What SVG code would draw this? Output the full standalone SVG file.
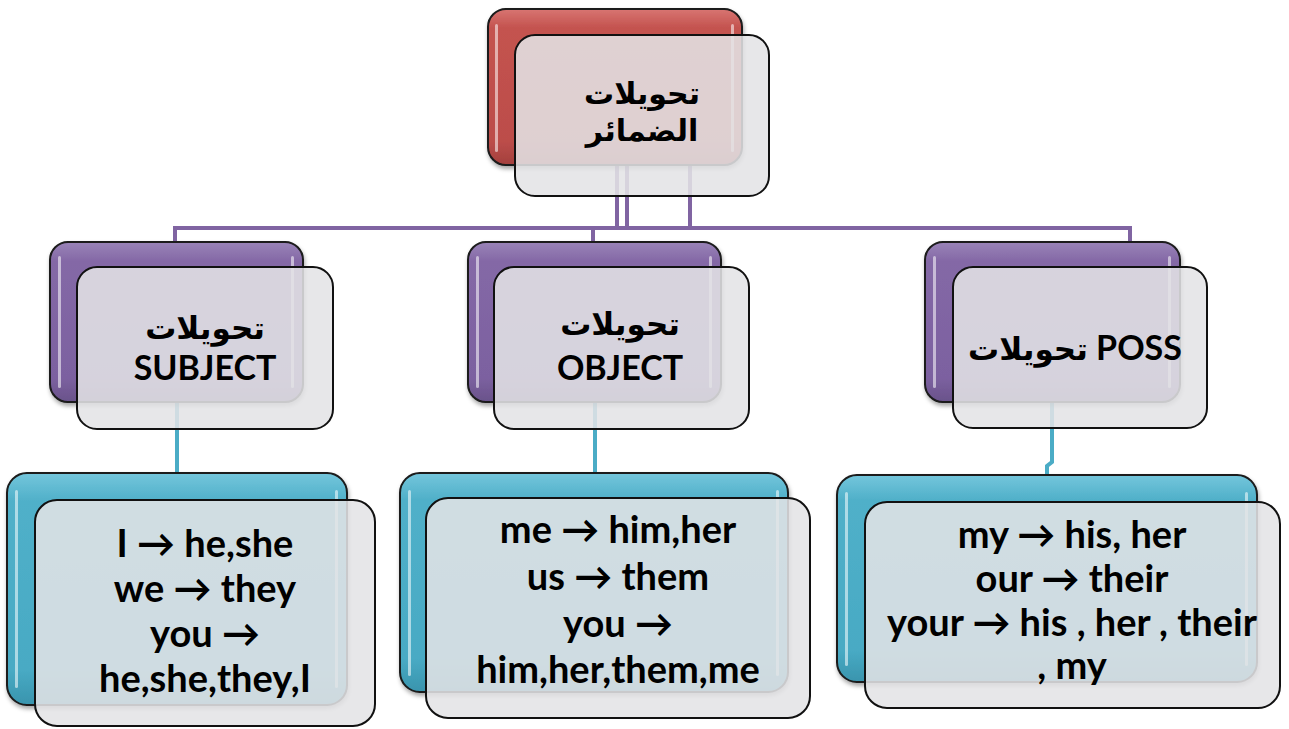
<svg xmlns="http://www.w3.org/2000/svg" width="1289" height="729" viewBox="0 0 1289 729">
<defs>
<linearGradient id="gRed" x1="0" y1="0" x2="0" y2="1">
<stop offset="0" stop-color="#d87572"/><stop offset="0.12" stop-color="#c4534f"/><stop offset="0.85" stop-color="#bc4d4a"/><stop offset="1" stop-color="#a3403d"/>
</linearGradient>
<linearGradient id="gPur" x1="0" y1="0" x2="0" y2="1">
<stop offset="0" stop-color="#9a84b8"/><stop offset="0.12" stop-color="#8468a6"/><stop offset="0.85" stop-color="#7c61a0"/><stop offset="1" stop-color="#69528a"/>
</linearGradient>
<linearGradient id="gTeal" x1="0" y1="0" x2="0" y2="1">
<stop offset="0" stop-color="#74c6dc"/><stop offset="0.12" stop-color="#50b0c9"/><stop offset="0.85" stop-color="#48aac4"/><stop offset="1" stop-color="#3994ad"/>
</linearGradient>
<filter id="sh" x="-5%" y="-5%" width="115%" height="120%">
<feDropShadow dx="1" dy="3" stdDeviation="2" flood-color="#000" flood-opacity="0.35"/>
</filter>
</defs>
<style>
.back{stroke:#1a1a1a;stroke-width:2}
.front{fill:#e4e4e6;fill-opacity:0.87;stroke:#111;stroke-width:2}
.hl{fill:#ffffff;fill-opacity:0.55}
.pc{fill:none;stroke:#8064a2;stroke-width:4}
.tc{fill:none;stroke:#4bacc6;stroke-width:4}
.ar{font-family:"DejaVu Sans",sans-serif;font-weight:bold;fill:#000;text-anchor:middle}
.en{font-family:Lato,"DejaVu Sans",sans-serif;font-weight:bold;fill:#000;text-anchor:middle}
</style>
<rect width="1289" height="729" fill="#ffffff"/>
<g id="connectors">
<path class="pc" d="M617 165V228M627 165V228M690 165V228M175 242V228H1130V242M593 228V242"/>
<path class="tc" d="M177 402V475M595 402V475M1052 402V462L1047 466V476"/>
</g>
<g id="node-root">
<rect class="back" x="488" y="9" width="254" height="156" rx="18" fill="url(#gRed)" filter="url(#sh)"/>
<rect class="hl" x="495" y="24" width="3" height="128" rx="1.5"/>
<rect class="hl" x="731" y="24" width="3" height="128" rx="1.5"/>
<rect class="front" x="515" y="35" width="254" height="161" rx="20"/>
<text class="ar" x="642" y="104" font-size="30">تحويلات</text>
<text class="ar" x="642" y="141" font-size="30">الضمائر</text>
</g>
<g id="node-subject">
<rect class="back" x="50" y="242" width="253" height="160" rx="18" fill="url(#gPur)" filter="url(#sh)"/>
<rect class="hl" x="58" y="256" width="3" height="132" rx="1.5"/>
<rect class="hl" x="291" y="256" width="3" height="132" rx="1.5"/>
<rect class="front" x="77" y="267" width="256" height="162" rx="20"/>
<text class="ar" x="205" y="339" font-size="31">تحويلات</text>
<text class="en" x="205" y="380" font-size="34">SUBJECT</text>
</g>
<g id="node-object">
<rect class="back" x="468" y="242" width="253" height="160" rx="18" fill="url(#gPur)" filter="url(#sh)"/>
<rect class="hl" x="476" y="256" width="3" height="132" rx="1.5"/>
<rect class="hl" x="709" y="256" width="3" height="132" rx="1.5"/>
<rect class="front" x="494" y="267" width="255" height="162" rx="20"/>
<text class="ar" x="620" y="335" font-size="31">تحويلات</text>
<text class="en" x="620" y="380" font-size="34">OBJECT</text>
</g>
<g id="node-poss">
<rect class="back" x="925" y="242" width="255" height="160" rx="18" fill="url(#gPur)" filter="url(#sh)"/>
<rect class="hl" x="933" y="256" width="3" height="132" rx="1.5"/>
<rect class="hl" x="1168" y="256" width="3" height="132" rx="1.5"/>
<rect class="front" x="953" y="267" width="254" height="161" rx="20"/>
<text class="en" x="1075" y="360" font-size="34"><tspan font-family="DejaVu Sans, sans-serif" font-size="31">تحويلات</tspan> POSS</text>
</g>
<g id="node-subject-list">
<rect class="back" x="7" y="473" width="340" height="232" rx="20" fill="url(#gTeal)" filter="url(#sh)"/>
<rect class="hl" x="15" y="490" width="3" height="198" rx="1.5"/>
<rect class="hl" x="335" y="490" width="3" height="198" rx="1.5"/>
<rect class="front" x="35" y="500" width="340" height="226" rx="22"/>
<text class="en" x="205" y="557" font-size="38">I → he,she</text>
<text class="en" x="205" y="602" font-size="38">we → they</text>
<text class="en" x="205" y="647" font-size="38">you →</text>
<text class="en" x="205" y="692" font-size="38">he,she,they,I</text>
</g>
<g id="node-object-list">
<rect class="back" x="400" y="473" width="388" height="219" rx="20" fill="url(#gTeal)" filter="url(#sh)"/>
<rect class="hl" x="408" y="490" width="3" height="186" rx="1.5"/>
<rect class="hl" x="776" y="490" width="3" height="186" rx="1.5"/>
<rect class="front" x="426" y="498" width="384" height="220" rx="22"/>
<text class="en" x="618" y="543" font-size="38">me → him,her</text>
<text class="en" x="618" y="590" font-size="38">us → them</text>
<text class="en" x="618" y="637" font-size="38">you →</text>
<text class="en" x="618" y="683" font-size="38">him,her,them,me</text>
</g>
<g id="node-poss-list">
<rect class="back" x="837" y="475" width="420" height="207" rx="20" fill="url(#gTeal)" filter="url(#sh)"/>
<rect class="hl" x="845" y="492" width="3" height="174" rx="1.5"/>
<rect class="hl" x="1245" y="492" width="3" height="174" rx="1.5"/>
<rect class="front" x="865" y="502" width="415" height="206" rx="22"/>
<text class="en" x="1072" y="548" font-size="38">my → his, her</text>
<text class="en" x="1072" y="592" font-size="38">our → their</text>
<text class="en" x="1072" y="636" font-size="38">your → his , her , their</text>
<text class="en" x="1072" y="679" font-size="38">, my</text>
</g>
</svg>
